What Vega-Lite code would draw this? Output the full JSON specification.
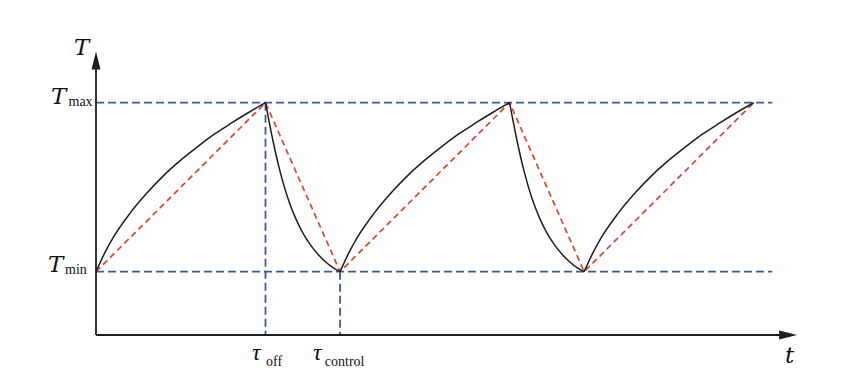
{
  "$schema": "https://vega.github.io/schema/vega-lite/v6.json",
  "width": 842,
  "height": 386,
  "autosize": {"type": "none"},
  "padding": 0,
  "background": "white",
  "config": {"view": {"stroke": null}},
  "datasets": {
    "axes": [
      {"t": 0, "T": -0.3746, "t2": 0, "T2": 1.21},
      {"t": 0, "T": -0.3746, "t2": 40.4, "T2": -0.3746}
    ],
    "arrows": [
      {"t": 40.83, "T": -0.3746, "dir": "right"},
      {"t": 0, "T": 1.2497, "dir": "up"}
    ],
    "hdash": [
      {"t": 0, "T": 1, "t2": 39.9, "T2": 1},
      {"t": 0, "T": 0, "t2": 39.9, "T2": 0},
      {"t": 10, "T": 1, "t2": 10, "T2": -0.3746},
      {"t": 14.4, "T": 0, "t2": 14.4, "T2": -0.3746}
    ],
    "red": [
      {"t": 0, "T": 0},
      {"t": 10, "T": 1},
      {"t": 14.4, "T": 0},
      {"t": 24.4, "T": 1},
      {"t": 28.8, "T": 0},
      {"t": 38.8, "T": 1}
    ],
    "black": [
      {"seg": "r1", "t": 0, "T": 0},
      {"seg": "r1", "t": 0.5, "T": 0.108},
      {"seg": "r1", "t": 1, "T": 0.2},
      {"seg": "r1", "t": 2, "T": 0.345},
      {"seg": "r1", "t": 3, "T": 0.465},
      {"seg": "r1", "t": 4, "T": 0.57},
      {"seg": "r1", "t": 5, "T": 0.66},
      {"seg": "r1", "t": 6, "T": 0.74},
      {"seg": "r1", "t": 7, "T": 0.815},
      {"seg": "r1", "t": 8, "T": 0.88},
      {"seg": "r1", "t": 9, "T": 0.942},
      {"seg": "r1", "t": 10, "T": 1},
      {"seg": "f1", "t": 10, "T": 1},
      {"seg": "f1", "t": 10.44, "T": 0.775},
      {"seg": "f1", "t": 10.88, "T": 0.585},
      {"seg": "f1", "t": 11.32, "T": 0.435},
      {"seg": "f1", "t": 11.76, "T": 0.32},
      {"seg": "f1", "t": 12.2, "T": 0.23},
      {"seg": "f1", "t": 12.64, "T": 0.16},
      {"seg": "f1", "t": 13.08, "T": 0.105},
      {"seg": "f1", "t": 13.52, "T": 0.06},
      {"seg": "f1", "t": 13.96, "T": 0.025},
      {"seg": "f1", "t": 14.4, "T": 0},
      {"seg": "r2", "t": 14.4, "T": 0},
      {"seg": "r2", "t": 14.9, "T": 0.108},
      {"seg": "r2", "t": 15.4, "T": 0.2},
      {"seg": "r2", "t": 16.4, "T": 0.345},
      {"seg": "r2", "t": 17.4, "T": 0.465},
      {"seg": "r2", "t": 18.4, "T": 0.57},
      {"seg": "r2", "t": 19.4, "T": 0.66},
      {"seg": "r2", "t": 20.4, "T": 0.74},
      {"seg": "r2", "t": 21.4, "T": 0.815},
      {"seg": "r2", "t": 22.4, "T": 0.88},
      {"seg": "r2", "t": 23.4, "T": 0.942},
      {"seg": "r2", "t": 24.4, "T": 1},
      {"seg": "f2", "t": 24.4, "T": 1},
      {"seg": "f2", "t": 24.84, "T": 0.775},
      {"seg": "f2", "t": 25.28, "T": 0.585},
      {"seg": "f2", "t": 25.72, "T": 0.435},
      {"seg": "f2", "t": 26.16, "T": 0.32},
      {"seg": "f2", "t": 26.6, "T": 0.23},
      {"seg": "f2", "t": 27.04, "T": 0.16},
      {"seg": "f2", "t": 27.48, "T": 0.105},
      {"seg": "f2", "t": 27.92, "T": 0.06},
      {"seg": "f2", "t": 28.36, "T": 0.025},
      {"seg": "f2", "t": 28.8, "T": 0},
      {"seg": "r3", "t": 28.8, "T": 0},
      {"seg": "r3", "t": 29.3, "T": 0.108},
      {"seg": "r3", "t": 29.8, "T": 0.2},
      {"seg": "r3", "t": 30.8, "T": 0.345},
      {"seg": "r3", "t": 31.8, "T": 0.465},
      {"seg": "r3", "t": 32.8, "T": 0.57},
      {"seg": "r3", "t": 33.8, "T": 0.66},
      {"seg": "r3", "t": 34.8, "T": 0.74},
      {"seg": "r3", "t": 35.8, "T": 0.815},
      {"seg": "r3", "t": 36.8, "T": 0.88},
      {"seg": "r3", "t": 37.8, "T": 0.942},
      {"seg": "r3", "t": 38.8, "T": 1}
    ],
    "big": [
      {"t": -1.3, "T": 1.282, "label": "T"},
      {"t": -2.65, "T": 0.992, "label": "T"},
      {"t": -2.83, "T": 0, "label": "T"},
      {"t": 40.65, "T": -0.54, "label": "t"}
    ],
    "greek": [
      {"t": 9.2, "T": -0.5225, "label": "τ"},
      {"t": 12.8, "T": -0.5225, "label": "τ"}
    ],
    "sub": [
      {"t": -1.622, "T": 0.9805, "label": "max"},
      {"t": -1.829, "T": -0.0136, "label": "min"},
      {"t": 10.03, "T": -0.558, "label": "off"},
      {"t": 13.5, "T": -0.558, "label": "control"}
    ]
  },
  "encoding": {
    "x": {"field": "t", "type": "quantitative", "scale": {"domain": [-5.664, 44.012], "nice": false, "zero": false}, "axis": null},
    "y": {"field": "T", "type": "quantitative", "scale": {"domain": [-0.6763, 1.6077], "nice": false, "zero": false}, "axis": null}
  },
  "layer": [
    {
      "data": {"name": "hdash"},
      "mark": {"type": "rule", "stroke": "#3b5b9d", "strokeWidth": 1.8, "strokeDash": [8, 4]},
      "encoding": {"x2": {"field": "t2"}, "y2": {"field": "T2"}}
    },
    {
      "data": {"name": "red"},
      "mark": {"type": "line", "stroke": "#d9472b", "strokeWidth": 1.7, "strokeDash": [6, 4]},
      "encoding": {}
    },
    {
      "data": {"name": "black"},
      "mark": {"type": "line", "stroke": "#1e1e1e", "strokeWidth": 1.5, "interpolate": "monotone"},
      "encoding": {"detail": {"field": "seg", "type": "nominal"}}
    },
    {
      "data": {"name": "axes"},
      "mark": {"type": "rule", "stroke": "#1e1e1e", "strokeWidth": 1.8},
      "encoding": {"x2": {"field": "t2"}, "y2": {"field": "T2"}}
    },
    {
      "data": {"name": "arrows"},
      "mark": {"type": "point", "filled": true, "fill": "#1e1e1e", "stroke": null, "opacity": 1, "size": 324},
      "encoding": {
        "shape": {"field": "dir", "type": "nominal", "scale": {"domain": ["right", "up"], "range": ["M1,0L-1,-0.5L-1,0.5Z", "M0,-1L-0.5,1L0.5,1Z"]}, "legend": null}
      }
    },
    {
      "data": {"name": "big"},
      "mark": {"type": "text", "font": "DejaVu Serif", "fontStyle": "italic", "fontSize": 23, "align": "left", "baseline": "alphabetic", "color": "#111"},
      "encoding": {"text": {"field": "label"}}
    },
    {
      "data": {"name": "greek"},
      "mark": {"type": "text", "font": "serif", "fontStyle": "italic", "fontSize": 24, "align": "left", "baseline": "alphabetic", "color": "#111"},
      "encoding": {"text": {"field": "label"}}
    },
    {
      "data": {"name": "sub"},
      "mark": {"type": "text", "font": "Liberation Serif", "fontSize": 14, "align": "left", "baseline": "alphabetic", "color": "#111"},
      "encoding": {"text": {"field": "label"}}
    }
  ]
}
